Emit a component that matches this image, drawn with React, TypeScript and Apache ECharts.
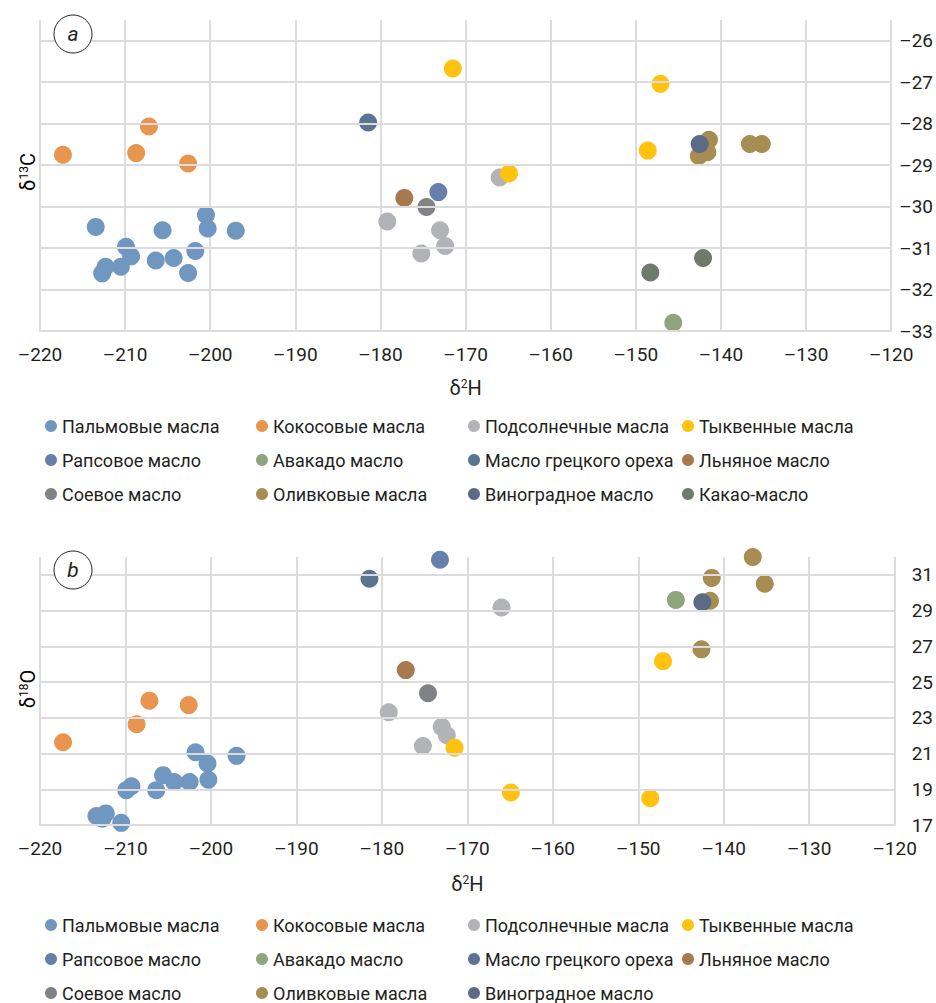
import React, { useEffect, useRef } from "react";
import * as echarts from "echarts";

const FONT = 'Roboto, "Liberation Sans", sans-serif';
const TEXT = "#231f20";
const GRID = "#dcdcde";

// tick labels
const xTicks = [-220, -210, -200, -190, -180, -170, -160, -150, -140, -130, -120];
const yTicksC13 = [-26, -27, -28, -29, -30, -31, -32, -33];
const yTicksO18 = [17, 19, 21, 23, 25, 27, 29, 31];

// series names & colours
const names = {
  palm: "Пальмовые масла",
  coco: "Кокосовые масла",
  sun: "Подсолнечные масла",
  pump: "Тыквенные масла",
  rape: "Рапсовое масло",
  avo: "Авакадо масло",
  walnut: "Масло грецкого ореха",
  flax: "Льняное масло",
  soy: "Соевое масло",
  olive: "Оливковые масла",
  grape: "Виноградное масло",
  cacao: "Какао-масло",
};
const colors: Record<string, string> = {
  palm: "#7097c0",
  coco: "#e8964f",
  sun: "#b2b3b6",
  pump: "#ffc20f",
  rape: "#667fad",
  avo: "#8ea57e",
  walnut: "#5a7492",
  flax: "#a8784f",
  soy: "#808285",
  olive: "#a78d52",
  grape: "#5b6a87",
  cacao: "#6e7b6a",
};

// Panel a: δ2H vs δ13C
const palmC = [
  [-213.45, -30.49], [-205.6, -30.57], [-200.5, -30.2], [-200.3, -30.53], [-197.0, -30.58],
  [-209.9, -30.97], [-209.3, -31.2], [-212.3, -31.45], [-212.7, -31.61], [-210.5, -31.45],
  [-206.4, -31.3], [-204.3, -31.24], [-201.75, -31.07], [-202.6, -31.6],
];
const cocoC = [[-217.3, -28.75], [-207.2, -28.07], [-208.7, -28.71], [-202.6, -28.96]];
const sunC = [[-179.2, -30.36], [-173.0, -30.57], [-172.4, -30.95], [-175.2, -31.13], [-166.0, -29.3]];
const pumpC = [[-171.5, -26.67], [-147.1, -27.04], [-148.6, -28.65], [-164.9, -29.2]];
const rapeC = [[-173.2, -29.65]];
const avoC = [[-145.6, -32.8]];
const walnutC = [[-181.45, -27.97]];
const flaxC = [[-177.2, -29.79]];
const soyC = [[-174.6, -30.01]];
const oliveC = [[-141.4, -28.39], [-141.6, -28.69], [-142.6, -28.78], [-136.6, -28.49], [-135.2, -28.49]];
const grapeC = [[-142.5, -28.49]];
const cacaoC = [[-148.3, -31.59], [-142.1, -31.24]];

// Panel b: δ2H vs δ18O
const palmO = [
  [-201.8, 21.07], [-197.0, 20.87], [-200.4, 20.44], [-200.3, 19.53], [-202.5, 19.4],
  [-204.3, 19.41], [-205.6, 19.79], [-206.4, 18.95], [-209.3, 19.17], [-209.9, 18.95],
  [-212.3, 17.65], [-213.4, 17.5], [-212.7, 17.35], [-210.5, 17.12],
];
const cocoO = [[-217.3, 21.63], [-207.2, 23.96], [-208.7, 22.64], [-202.6, 23.71]];
const sunO = [[-179.2, 23.31], [-173.0, 22.49], [-172.4, 22.02], [-175.2, 21.42], [-166.0, 29.17]];
const pumpO = [[-171.5, 21.33], [-147.1, 26.17], [-164.9, 18.82], [-148.6, 18.5]];
const rapeO = [[-173.2, 31.85]];
const avoO = [[-145.6, 29.6]];
const walnutO = [[-181.45, 30.78]];
const flaxO = [[-177.2, 25.67]];
const soyO = [[-174.6, 24.37]];
const oliveO = [[-136.6, 32.0], [-141.4, 30.83], [-135.2, 30.5], [-141.6, 29.55], [-142.6, 26.83]];
const grapeO = [[-142.5, 29.47]];

const panelA: [string, number[][]][] = [
  ["palm", palmC], ["coco", cocoC], ["sun", sunC], ["pump", pumpC], ["rape", rapeC], ["avo", avoC],
  ["walnut", walnutC], ["flax", flaxC], ["soy", soyC], ["olive", oliveC], ["grape", grapeC], ["cacao", cacaoC],
];
const panelB: [string, number[][]][] = [
  ["palm", palmO], ["coco", cocoO], ["sun", sunO], ["pump", pumpO], ["rape", rapeO], ["avo", avoO],
  ["walnut", walnutO], ["flax", flaxO], ["soy", soyO], ["olive", oliveO], ["grape", grapeO],
];

const legendColsA = [
  ["palm", "rape", "soy"],
  ["coco", "avo", "olive"],
  ["sun", "walnut", "grape"],
  ["pump", "flax", "cacao"],
];
const legendColsB = [
  ["palm", "rape", "soy"],
  ["coco", "avo", "olive"],
  ["sun", "walnut", "grape"],
  ["pump", "flax"],
];

const dash = (v: number) => String(v).replace("-", "\u2013");

const richTitle = {
  d: { fontFamily: FONT, fontSize: 20, color: TEXT },
  s: { fontFamily: FONT, fontSize: 12, color: TEXT, verticalAlign: "top" },
};

export default function App() {
  const ref = useRef<HTMLDivElement>(null);
  useEffect(() => {
    if (!ref.current) return;
    const chart = echarts.init(ref.current, null, { renderer: "svg" });

    const grids = [
      { left: 40, right: 41, top: 20, height: 311 },
      { left: 40, right: 41, top: 557, height: 268 },
    ];
    const xAxisBase = (gi: number, gap: number) => ({
      type: "value",
      gridIndex: gi,
      min: xTicks[0],
      max: xTicks[xTicks.length - 1],
      interval: 10,
      name: "{d|δ}{s|2}{d|H}",
      nameLocation: "middle",
      nameGap: gap,
      nameTextStyle: { rich: richTitle },
      axisLine: { show: true, lineStyle: { color: GRID, width: 2 } },
      axisTick: { show: false },
      splitLine: { show: true, lineStyle: { color: GRID, width: 2 } },
      axisLabel: { formatter: (v: number) => dash(v), color: TEXT, fontFamily: FONT, fontSize: 19, margin: 14 },
    });

    const series: any[] = [];
    const addPanel = (panel: [string, number[][]][], gi: number, ticks: number[]) => {
      series.push({
        type: "scatter",
        name: "grid" + gi,
        xAxisIndex: gi,
        yAxisIndex: gi,
        data: [],
        silent: true,
        z: 1,
        markLine: {
          silent: true,
          symbol: "none",
          label: { show: false },
          lineStyle: { color: GRID, width: 2, type: "solid" },
          data: ticks.map((v) => ({ yAxis: v })),
        },
      });
      panel.forEach(([key, data]) => {
        series.push({
          type: "scatter",
          name: (names as any)[key],
          xAxisIndex: gi,
          yAxisIndex: gi,
          data,
          symbol: "circle",
          symbolSize: 18,
          z: 3,
          itemStyle: { color: colors[key], opacity: 1 },
        });
      });
    };
    addPanel(panelA, 0, yTicksC13);
    addPanel(panelB, 1, yTicksO18);

    const colLeft = [45, 256, 468, 682];
    const legends: any[] = [];
    const addLegends = (cols: string[][], top: number) => {
      cols.forEach((col, i) => {
        legends.push({
          orient: "vertical",
          left: colLeft[i],
          top,
          padding: 0,
          itemGap: 16,
          itemWidth: 12,
          itemHeight: 12,
          icon: "circle",
          selectedMode: false,
          data: col.map((k) => (names as any)[k]),
          textStyle: { color: TEXT, fontFamily: FONT, fontSize: 18, padding: [0, 0, 0, 0] },
        });
      });
    };
    addLegends(legendColsA, 417);
    addLegends(legendColsB, 916);

    const badge = (cy: number, letter: string) => [
      { type: "circle", shape: { cx: 73, cy, r: 19 }, style: { fill: "#fff", stroke: "#231f20", lineWidth: 1 }, z: 10 },
      {
        type: "text",
        x: 73,
        y: cy,
        z: 11,
        style: { text: letter, fill: TEXT, font: `italic 21px ${FONT}`, align: "center", verticalAlign: "middle" },
      },
    ];

    const yTitle = (y: number, sup: string, letter: string) => ({
      type: "text",
      x: 28,
      y,
      rotation: Math.PI / 2,
      z: 10,
      style: {
        text: `{d|δ}{s|${sup}}{d|${letter}}`,
        rich: richTitle,
        align: "center",
        verticalAlign: "middle",
      },
    });

    chart.setOption({
      animation: false,
      grid: grids,
      xAxis: [xAxisBase(0, 47), xAxisBase(1, 49)],
      yAxis: [
        {
          type: "value",
          gridIndex: 0,
          position: "right",
          min: yTicksC13[yTicksC13.length - 1],
          max: -25.5,
          interval: 0.5,
          axisLine: { show: false },
          axisTick: { show: false },
          splitLine: { show: false },
          axisLabel: {
            formatter: (v: number) => (Math.abs(v - Math.round(v)) < 1e-6 ? dash(Math.round(v)) : ""),
            color: TEXT,
            fontFamily: FONT,
            fontSize: 19,
            margin: 8,
          },
        },
        {
          type: "value",
          gridIndex: 1,
          position: "right",
          min: yTicksO18[0],
          max: 32,
          interval: 1,
          axisLine: { show: false },
          axisTick: { show: false },
          splitLine: { show: false },
          axisLabel: {
            formatter: (v: number) => (yTicksO18.includes(Math.round(v)) ? String(Math.round(v)) : ""),
            color: TEXT,
            fontFamily: FONT,
            fontSize: 19,
            margin: 17,
          },
        },
      ],
      legend: legends,
      graphic: [...badge(34, "a"), ...badge(570, "b"), yTitle(172, "13", "C"), yTitle(689, "18", "O")],
      series,
    });
    return () => chart.dispose();
  }, []);
  return <div ref={ref} style={{ position: "absolute", left: 0, top: 0, width: 936, height: 1003 }} />;
}
